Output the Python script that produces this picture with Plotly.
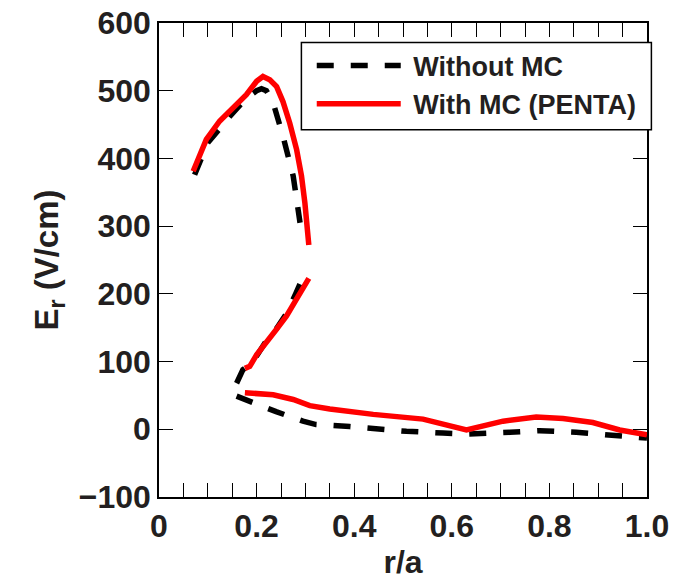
import plotly.graph_objects as go

# Radial electric field profiles, E_r versus normalised radius r/a.
# Each profile has three roots (branches); branches are separated by None.

# Without MC
r_without_upper = [0.073, 0.100, 0.145, 0.179, 0.200, 0.210, 0.220, 0.234, 0.254, 0.275, 0.289]
er_without_upper = [376, 423, 462, 489, 500, 503, 500, 482, 433, 374, 305]
r_without_mid = [0.159, 0.172, 0.190, 0.205, 0.222, 0.242, 0.262, 0.280, 0.291]
er_without_mid = [68, 88, 97, 115, 133, 150, 172, 200, 218]
r_without_low = [0.159, 0.186, 0.240, 0.295, 0.322, 0.391, 0.439, 0.507, 0.582,
                 0.633, 0.719, 0.780, 0.855, 0.924, 1.0]
er_without_low = [49, 41, 26, 12, 7, 4, 0.5, -3, -5.5, -7, -4.5, -2, -4.5, -8, -13]

# With MC (PENTA)
r_with_upper = [0.070, 0.097, 0.124, 0.150, 0.165, 0.179, 0.200, 0.213, 0.227,
                0.241, 0.254, 0.268, 0.282, 0.292, 0.299, 0.307]
er_with_upper = [381, 428, 455, 474, 484, 494, 514, 521, 516,
                 506, 484, 452, 413, 374, 334, 272]
r_with_mid = [0.176, 0.186, 0.200, 0.220, 0.240, 0.261, 0.281, 0.295, 0.307]
er_with_mid = [90, 93, 110, 130, 147, 167, 191, 211, 223]
r_with_low = [0.176, 0.234, 0.275, 0.309, 0.350, 0.391, 0.439, 0.541, 0.630,
              0.705, 0.773, 0.828, 0.889, 0.944, 1.0]
er_with_low = [54, 51, 44, 35, 30, 26, 22, 15, -1, 12, 18, 16, 10, -1, -8]

series_names = ["Without MC", "With MC (PENTA)"]

# Axis ticks
x_tick_vals = [0, 0.2, 0.4, 0.6, 0.8, 1.0]
x_tick_text = ["0", "0.2", "0.4", "0.6", "0.8", "1.0"]
y_tick_vals = [-100, 0, 100, 200, 300, 400, 500, 600]


def join_branches(*branches):
    out = []
    for i, b in enumerate(branches):
        if i:
            out.append(None)
        out.extend(b)
    return out


FONT = "Liberation Sans, Arial, Helvetica, sans-serif"
TEXT = "#231f20"
NBSP = "\u00a0"

fig = go.Figure()
fig.add_trace(go.Scatter(
    x=join_branches(r_without_upper, r_without_mid, r_without_low),
    y=join_branches(er_without_upper, er_without_mid, er_without_low),
    mode="lines", name=NBSP + series_names[0], connectgaps=False,
    line=dict(color="black", width=5.5, dash="17px,17px"),
))
fig.add_trace(go.Scatter(
    x=join_branches(r_with_upper, r_with_mid, r_with_low),
    y=join_branches(er_with_upper, er_with_mid, er_with_low),
    mode="lines", name=NBSP + series_names[1], connectgaps=False,
    line=dict(color="#ff0000", width=5.5),
))

axis_common = dict(
    showline=True, linecolor="black", linewidth=1.6, mirror="ticks",
    ticks="inside", ticklen=14, tickwidth=1.3, tickcolor="black",
    showgrid=False, zeroline=False,
    tickfont=dict(family=FONT, size=32, color=TEXT, weight="bold"),
)

fig.update_layout(
    width=682, height=580,
    margin=dict(l=159, r=35, t=23, b=83, autoexpand=False),
    paper_bgcolor="white", plot_bgcolor="white",
    font=dict(family=FONT, color=TEXT),
    xaxis=dict(
        range=[0, 1], tickmode="array", tickvals=x_tick_vals, ticktext=x_tick_text,
        minor=dict(dtick=0.05, ticks="inside", ticklen=14, tickwidth=1.3, tickcolor="black"),
        title=dict(text="r/a", font=dict(family=FONT, size=32, color=TEXT, weight="bold"),
                   standoff=9),
        **axis_common,
    ),
    yaxis=dict(
        range=[-100, 600], tickmode="array", tickvals=y_tick_vals,
        title=dict(text="E<sub>r</sub> (V/cm)",
                   font=dict(family=FONT, size=33, color=TEXT, weight="bold"), standoff=10),
        **axis_common,
    ),
    legend=dict(
        x=0.313, xanchor="left", y=0.961, yanchor="top",
        bgcolor="rgba(0,0,0,0)", borderwidth=0,
        font=dict(family=FONT, size=27, color=TEXT, weight="bold"),
        itemwidth=84,
    ),
    showlegend=True,
    # legend frame
    shapes=[dict(
        type="rect", xref="paper", yref="paper",
        x0=0.2918, x1=1.009, y0=0.775, y1=0.959,
        line=dict(color="black", width=1.5), fillcolor="white", layer="above",
    )],
)

fig.write_html("out.html")
